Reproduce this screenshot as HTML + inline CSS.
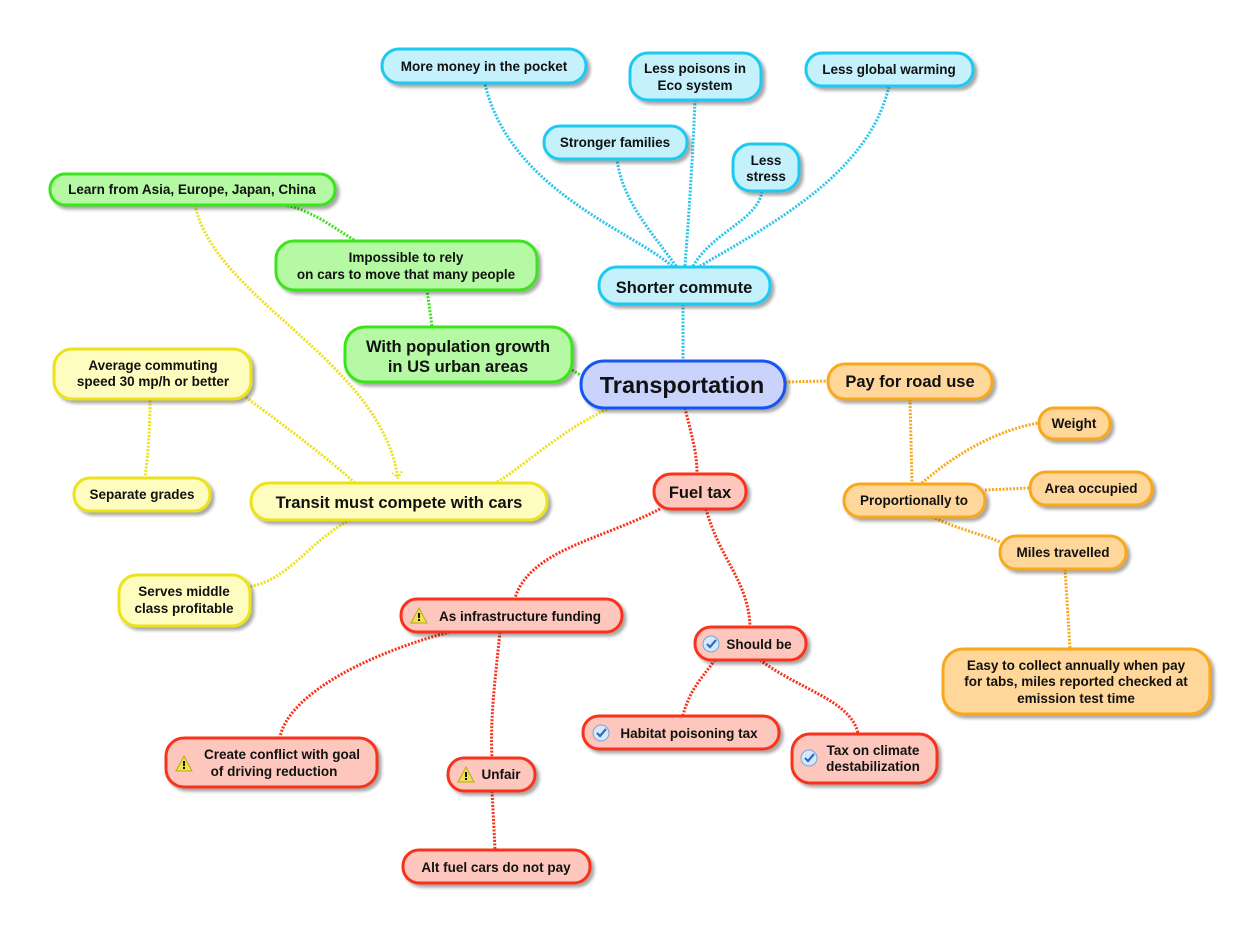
<!DOCTYPE html>
<html><head><meta charset="utf-8"><style>
html,body{margin:0;padding:0;background:#fff;}
svg{display:block;}
text{font-family:"Liberation Sans",sans-serif;font-weight:bold;fill:#111;text-anchor:middle;}
</style></head><body>
<svg width="1259" height="931" viewBox="0 0 1259 931" xmlns="http://www.w3.org/2000/svg">
<defs>
<filter id="sh" x="-10%" y="-20%" width="130%" height="160%"><feGaussianBlur in="SourceAlpha" stdDeviation="1.6"/><feOffset dx="3" dy="3"/><feComponentTransfer><feFuncA type="linear" slope="0.35"/></feComponentTransfer><feMerge><feMergeNode/><feMergeNode in="SourceGraphic"/></feMerge></filter>
<marker id="ar" markerUnits="userSpaceOnUse" markerWidth="14" markerHeight="14" refX="9" refY="7" orient="auto"><path d="M3,2 L9,7 L3,12" fill="none" stroke="#ece21c" stroke-width="2" stroke-dasharray="2 1.5"/></marker>
</defs>
<g fill="none" stroke-width="3" stroke-dasharray="2 1.5">
<g stroke="#2bc6ee">
<path d="M672,266 C630,230 510,190 485,84"/>
<path d="M685,266 C690,200 693,150 695,100"/>
<path d="M676,266 C650,230 622,200 617,159"/>
<path d="M693,266 C715,230 758,220 762,191"/>
<path d="M700,266 C780,220 870,170 889,86"/>
<path d="M683,304 L683,360"/>
</g>
<g stroke="#3ae41a">
<path d="M572,370 L582,376"/>
<path d="M432,326 L427,290"/>
<path d="M354,240 C330,225 310,210 285,205"/>
</g>
<g stroke="#ece21c">
<path d="M610,408 C560,430 520,470 495,483"/>
<path d="M243,395 C290,430 330,460 355,483"/>
<path d="M150,400 C150,430 148,455 145,477"/>
<path d="M350,520 C310,540 290,580 248,587"/>
<path d="M195,205 C215,300 380,360 398,478" marker-end="url(#ar)"/>
</g>
<g stroke="#f9a81e">
<path d="M785,382 L827,381"/>
<path d="M910,399 L912,483"/>
<path d="M922,483 C960,450 1000,430 1038,423"/>
<path d="M985,490 L1029,488"/>
<path d="M932,517 C960,530 985,535 1000,542"/>
<path d="M1065,569 L1070,648"/>
</g>
<g stroke="#f9321a">
<path d="M685,408 C690,430 697,450 697,473"/>
<path d="M660,509 C600,540 530,550 515,598"/>
<path d="M706,509 C720,560 748,580 750,626"/>
<path d="M450,632 C380,650 290,690 280,737"/>
<path d="M500,632 C495,680 490,720 492,757"/>
<path d="M492,791 L495,849"/>
<path d="M715,660 C700,680 690,690 683,715"/>
<path d="M760,660 C800,690 850,700 858,733"/>
</g>
</g>
<g stroke-width="3" filter="url(#sh)">
<g fill="#c5f1fc" stroke="#1fc9f0">
<rect x="382" y="49" width="204" height="34" rx="17"/>
<rect x="630" y="53" width="131" height="47" rx="18"/>
<rect x="806" y="53" width="167" height="33" rx="16"/>
<rect x="544" y="126" width="143" height="33" rx="16"/>
<rect x="733" y="144" width="66" height="47" rx="18"/>
<rect x="599" y="267" width="171" height="37" rx="18"/>
</g>
<g fill="#b6f9a5" stroke="#3ae41a">
<rect x="50" y="174" width="285" height="31" rx="15"/>
<rect x="276" y="241" width="261" height="49" rx="18"/>
<rect x="345" y="327" width="227" height="55" rx="20"/>
</g>
<rect x="581" y="361" width="204" height="47" rx="23" fill="#c9d3fb" stroke="#1656f0"/>
<g fill="#fffcbf" stroke="#ece21c">
<rect x="54" y="349" width="197" height="50" rx="18"/>
<rect x="74" y="478" width="136" height="33" rx="16"/>
<rect x="251" y="483" width="296" height="37" rx="18"/>
<rect x="119" y="575" width="131" height="51" rx="18"/>
</g>
<g fill="#ffd79a" stroke="#f9a81e">
<rect x="828" y="364" width="164" height="35" rx="17"/>
<rect x="1039" y="408" width="71" height="31" rx="15"/>
<rect x="1030" y="472" width="122" height="33" rx="16"/>
<rect x="844" y="484" width="141" height="33" rx="16"/>
<rect x="1000" y="536" width="126" height="33" rx="16"/>
<rect x="943" y="649" width="267" height="65" rx="20"/>
</g>
<g fill="#fdc7bd" stroke="#f9321a">
<rect x="654" y="474" width="92" height="35" rx="17"/>
<rect x="401" y="599" width="221" height="33" rx="16"/>
<rect x="695" y="627" width="111" height="33" rx="16"/>
<rect x="583" y="716" width="196" height="33" rx="16"/>
<rect x="792" y="734" width="145" height="49" rx="18"/>
<rect x="166" y="738" width="211" height="49" rx="18"/>
<rect x="448" y="758" width="87" height="33" rx="16"/>
<rect x="403" y="850" width="187" height="33" rx="16"/>
</g>
</g>
<g font-size="13.5">
<text x="484" y="71">More money in the pocket</text>
<text x="695" y="73">Less poisons in</text>
<text x="695" y="90">Eco system</text>
<text x="889" y="74">Less global warming</text>
<text x="615" y="147">Stronger families</text>
<text x="766" y="165">Less</text>
<text x="766" y="181">stress</text>
<text x="192" y="194">Learn from Asia, Europe, Japan, China</text>
<text x="406" y="262">Impossible to rely</text>
<text x="406" y="279">on cars to move that many people</text>
<text x="153" y="370">Average commuting</text>
<text x="153" y="386">speed 30 mp/h or better</text>
<text x="142" y="499">Separate grades</text>
<text x="184" y="596">Serves middle</text>
<text x="184" y="613">class profitable</text>
<text x="1074" y="428">Weight</text>
<text x="1091" y="493">Area occupied</text>
<text x="914" y="505">Proportionally to</text>
<text x="1063" y="557">Miles travelled</text>
<text x="1076" y="670">Easy to collect annually when pay</text>
<text x="1076" y="686">for tabs, miles reported checked at</text>
<text x="1076" y="703">emission test time</text>
<text x="520" y="621">As infrastructure funding</text>
<text x="759" y="649">Should be</text>
<text x="689" y="738">Habitat poisoning tax</text>
<text x="873" y="755">Tax on climate</text>
<text x="873" y="771">destabilization</text>
<text x="282" y="759">Create conflict with goal</text>
<text x="274" y="776">of driving reduction</text>
<text x="501" y="779">Unfair</text>
<text x="496" y="872">Alt fuel cars do not pay</text>
</g>
<text x="684" y="293" font-size="16.5">Shorter commute</text>
<text x="458" y="352" font-size="16.5">With population growth</text>
<text x="458" y="372" font-size="16.5">in US urban areas</text>
<text x="682" y="393" font-size="23.5">Transportation</text>
<text x="399" y="508" font-size="16.5">Transit must compete with cars</text>
<text x="910" y="387" font-size="16.5">Pay for road use</text>
<text x="700" y="498" font-size="16.5">Fuel tax</text>
<g>
<g transform="translate(419,616)"><path d="M0,-8 L8,7 L-8,7 Z" fill="#f0e04a" stroke="#b8a820" stroke-width="1"/><rect x="-1" y="-3" width="2" height="5" fill="#111"/><rect x="-1" y="3" width="2" height="2" fill="#111"/></g>
<g transform="translate(184,764)"><path d="M0,-8 L8,7 L-8,7 Z" fill="#f0e04a" stroke="#b8a820" stroke-width="1"/><rect x="-1" y="-3" width="2" height="5" fill="#111"/><rect x="-1" y="3" width="2" height="2" fill="#111"/></g>
<g transform="translate(466,775)"><path d="M0,-8 L8,7 L-8,7 Z" fill="#f0e04a" stroke="#b8a820" stroke-width="1"/><rect x="-1" y="-3" width="2" height="5" fill="#111"/><rect x="-1" y="3" width="2" height="2" fill="#111"/></g>
<g transform="translate(711,644)"><circle r="8" fill="#d6e8fa" stroke="#7aa4d4" stroke-width="1"/><path d="M-4,0 L-1,3 L5,-4" fill="none" stroke="#2a6cc8" stroke-width="2.2"/></g>
<g transform="translate(601,733)"><circle r="8" fill="#d6e8fa" stroke="#7aa4d4" stroke-width="1"/><path d="M-4,0 L-1,3 L5,-4" fill="none" stroke="#2a6cc8" stroke-width="2.2"/></g>
<g transform="translate(809,758)"><circle r="8" fill="#d6e8fa" stroke="#7aa4d4" stroke-width="1"/><path d="M-4,0 L-1,3 L5,-4" fill="none" stroke="#2a6cc8" stroke-width="2.2"/></g>
</g>
</svg>
</body></html>
